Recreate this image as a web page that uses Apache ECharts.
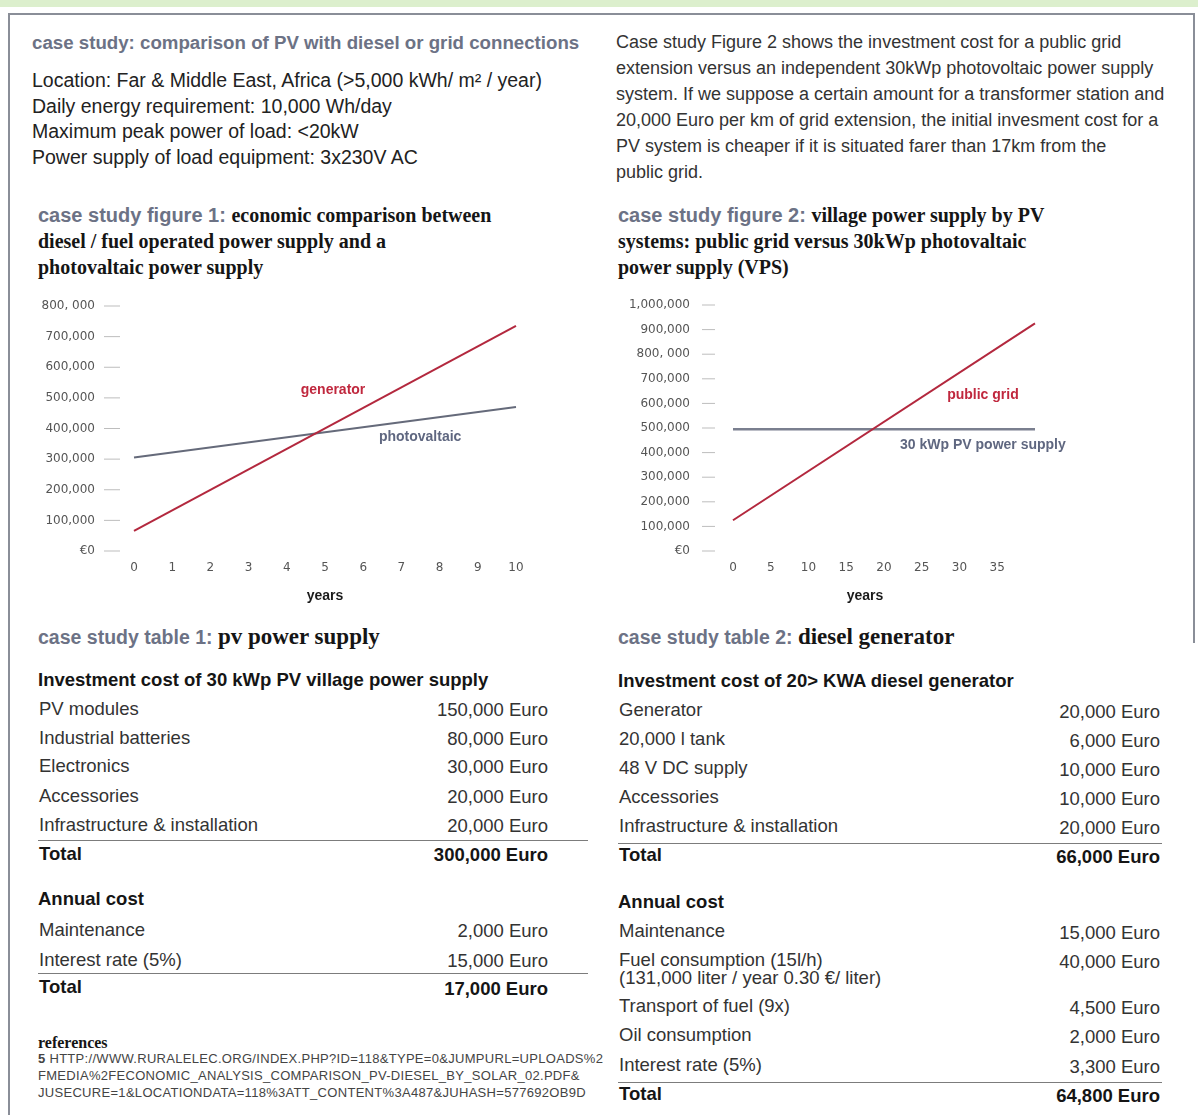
<!DOCTYPE html>
<html>
<head>
<meta charset="utf-8">
<title>case study: comparison of PV with diesel or grid connections</title>
<script src="https://cdn.jsdelivr.net/npm/echarts@6/dist/echarts.min.js"></script>
<style>
  html, body { margin: 0; padding: 0; background: #fff; }
  #page {
    position: relative; width: 1198px; height: 1115px; overflow: hidden;
    font-family: "Liberation Sans", Arial, sans-serif;
    color: #222;
  }
  .t { position: absolute; white-space: nowrap; line-height: 26px; }
  .band { position: absolute; left: 0; top: 0; width: 1198px; height: 7px; background: #dcefcd; }
  .line { position: absolute; background: #8a8e98; }
  .rule { position: absolute; height: 1px; background: #7c7c7c; }
  .hdr { font-size: 18.7px; font-weight: bold; color: #6c7285; }
  .intro { font-size: 19.5px; color: #222; }
  .para { font-size: 18px; color: #333; }
  .pre { font-family: "Liberation Sans", Arial, sans-serif; font-size: 20px; font-weight: bold; color: #6c7285; }
  .serif { font-family: "Liberation Serif", "DejaVu Serif", serif; font-size: 20px; font-weight: bold; color: #151515; }
  .big { font-size: 23px; }
  .big .pre { font-size: 19.5px; }
  .sub { font-size: 18.5px; font-weight: bold; color: #151515; }
  .row { font-size: 18.5px; color: #333; }
  .tot { font-size: 18.5px; font-weight: bold; color: #151515; }
  .ref { font-size: 13px; color: #444; line-height: 17px; letter-spacing: 0.3px; }
  #charts { position: absolute; left: 0; top: 290px; width: 1198px; height: 320px; }
</style>
</head>
<body>
<div id="page">
  <div id="charts"></div>
</div>
<script>
  // chart 1: costs over 10 years
  var years1 = [0, 10];
  var generatorCost = [66000, 735000];
  var pvCost1 = [305000, 470000];
  var yTicks1 = ['€0', '100,000', '200,000', '300,000', '400,000', '500,000', '600,000', '700,000', '800, 000'];

  // chart 2: public grid versus 30kWp PV
  var years2 = [0, 40];
  var publicGridCost = [125000, 925000];
  var pvCost2 = [495000, 495000];
  var yTicks2 = ['€0', '100,000', '200,000', '300,000', '400,000', '500,000', '600,000', '700,000', '800, 000', '900,000', '1,000,000'];

  // table 1: pv power supply
  var pvInvestItems = ['PV modules', 'Industrial batteries', 'Electronics', 'Accessories', 'Infrastructure & installation'];
  var pvInvestCost = [150000, 80000, 30000, 20000, 20000];
  var pvInvestTotal = 300000;
  var pvAnnualItems = ['Maintenance', 'Interest rate (5%)'];
  var pvAnnualCost = [2000, 15000];
  var pvAnnualTotal = 17000;

  // table 2: diesel generator
  var dieselInvestItems = ['Generator', '20,000 l tank', '48 V DC supply', 'Accessories', 'Infrastructure & installation'];
  var dieselInvestCost = [20000, 6000, 10000, 10000, 20000];
  var dieselInvestTotal = 66000;
  var dieselAnnualItems = ['Maintenance', 'Fuel consumption (15l/h)<br>(131,000 liter / year 0.30 €/ liter)', 'Transport of fuel (9x)', 'Oil consumption', 'Interest rate (5%)'];
  var dieselAnnualCost = [15000, 40000, 4500, 2000, 3300];
  var dieselAnnualTotal = 64800;

  var page = document.getElementById('page');

  function put(html, x, y, cls, right) {
    var d = document.createElement('div');
    d.className = 't ' + cls;
    d.innerHTML = html;
    d.style.top = (y - 13) + 'px';
    if (right) {
      d.style.right = (1198 - x) + 'px';
      d.style.textAlign = 'right';
    } else {
      d.style.left = x + 'px';
    }
    page.appendChild(d);
    return d;
  }
  function box(cls, x, y, w, h) {
    var d = document.createElement('div');
    d.className = cls;
    d.style.left = x + 'px';
    d.style.top = y + 'px';
    d.style.width = w + 'px';
    d.style.height = h + 'px';
    page.appendChild(d);
  }
  function euro(v) {
    return v.toLocaleString('en-US') + ' Euro';
  }

  // frame
  var band = document.createElement('div');
  band.className = 'band';
  page.appendChild(band);
  box('line', 8, 13, 1187, 2);
  box('line', 8, 13, 2, 1102);
  box('line', 1193, 13, 2, 630);

  // intro text
  put('case study: comparison of PV with diesel or grid connections', 32, 43, 'hdr');
  put('Location: Far &amp; Middle East, Africa (&gt;5,000 kWh/ m² / year)', 32, 80, 'intro');
  put('Daily energy requirement: 10,000 Wh/day', 32, 106, 'intro');
  put('Maximum peak power of load: &lt;20kW', 32, 131, 'intro');
  put('Power supply of load equipment: 3x230V AC', 32, 157, 'intro');

  var para = [
    'Case study Figure 2 shows the investment cost for a public grid',
    'extension versus an independent 30kWp photovoltaic power supply',
    'system. If we suppose a certain amount for a transformer station and',
    '20,000 Euro per km of grid extension, the initial invesment cost for a',
    'PV system is cheaper if it is situated farer than 17km from the',
    'public grid.'
  ];
  para.forEach(function (s, i) { put(s, 616, 42 + i * 26, 'para'); });

  // figure titles
  put('<span class="pre">case study figure 1: </span>economic comparison between', 38, 215, 'serif');
  put('diesel / fuel operated power supply and a', 38, 241, 'serif');
  put('photovaltaic power supply', 38, 267, 'serif');
  put('<span class="pre">case study figure 2: </span>village power supply by PV', 618, 215, 'serif');
  put('systems: public grid versus 30kWp photovaltaic', 618, 241, 'serif');
  put('power supply (VPS)', 618, 267, 'serif');

  // table 1
  put('<span class="pre">case study table 1: </span>pv power supply', 38, 637, 'serif big');
  put('Investment cost of 30 kWp PV village power supply', 38, 680, 'sub');
  var t1Rows = [709, 738, 766, 796, 825];
  pvInvestItems.forEach(function (s, i) {
    put(s, 39, t1Rows[i], 'row');
    put(euro(pvInvestCost[i]), 548, t1Rows[i] + 1, 'row', true);
  });
  box('rule', 38, 840, 550, 1);
  put('Total', 39, 854, 'tot');
  put(euro(pvInvestTotal), 548, 855, 'tot', true);
  put('Annual cost', 38, 899, 'sub');
  var t1Annual = [930, 960];
  pvAnnualItems.forEach(function (s, i) {
    put(s, 39, t1Annual[i], 'row');
    put(euro(pvAnnualCost[i]), 548, t1Annual[i] + 1, 'row', true);
  });
  box('rule', 38, 973, 550, 1);
  put('Total', 39, 987, 'tot');
  put(euro(pvAnnualTotal), 548, 989, 'tot', true);

  // references
  var r = put('references', 38, 1043, 'serif');
  r.style.fontSize = '16px';
  put('<b>5</b> HTTP://WWW.RURALELEC.ORG/INDEX.PHP?ID=118&amp;TYPE=0&amp;JUMPURL=UPLOADS%2<br>' +
    'FMEDIA%2FECONOMIC_ANALYSIS_COMPARISON_PV-DIESEL_BY_SOLAR_02.PDF&amp;<br>' +
    'JUSECURE=1&amp;LOCATIONDATA=118%3ATT_CONTENT%3A487&amp;JUHASH=577692OB9D', 38, 1063, 'ref');

  // table 2
  put('<span class="pre">case study table 2: </span>diesel generator', 618, 637, 'serif big');
  put('Investment cost of 20&gt; KWA diesel generator', 618, 681, 'sub');
  var t2Rows = [711, 740, 769, 798, 827];
  dieselInvestItems.forEach(function (s, i) {
    put(s, 619, t2Rows[i] - 1, 'row');
    put(euro(dieselInvestCost[i]), 1160, t2Rows[i] + 1, 'row', true);
  });
  box('rule', 618, 843, 544, 1);
  put('Total', 619, 855, 'tot');
  put(euro(dieselInvestTotal), 1160, 857, 'tot', true);
  put('Annual cost', 618, 902, 'sub');
  var t2Annual = [933, 962, 1008, 1037, 1067];
  dieselAnnualItems.forEach(function (s, i) {
    var d = put(s, 619, t2Annual[i] - 2, 'row');
    if (i === 1) {
      d.style.lineHeight = '18px';
      d.style.top = (960 - 9) + 'px';
    }
    put(euro(dieselAnnualCost[i]), 1160, t2Annual[i], 'row', true);
  });
  box('rule', 618, 1082, 544, 1);
  put('Total', 619, 1094, 'tot');
  put(euro(dieselAnnualTotal), 1160, 1096, 'tot', true);

  // charts
  var chart = echarts.init(document.getElementById('charts'));
  var red = '#b3283e';
  var slate = '#656a7a';
  var sansBold = '"Liberation Sans", Arial, sans-serif';
  var tickFont = { color: '#555', fontSize: 12, fontFamily: 'DejaVu Sans' };
  var nameFont = { color: '#1a1a1a', fontSize: 14, fontWeight: 'bold', fontFamily: sansBold };

  // the little dashes next to the y labels sit away from the plot, so draw them in the label
  function yAxisFor(gridIndex, max, labels, margin, gap, dash) {
    return {
      type: 'value', gridIndex: gridIndex, min: 0, max: max, interval: 100000,
      axisLine: { show: false },
      axisTick: { show: false },
      splitLine: { show: false },
      axisLabel: Object.assign({
        margin: margin,
        formatter: function (v) { return labels[Math.round(v / 100000)] + '{s|}{d|}'; },
        rich: {
          s: { width: gap, height: 1 },
          d: { width: dash, height: 1, backgroundColor: '#bdbdbd', verticalAlign: 'middle' }
        }
      }, tickFont)
    };
  }

  function pairs(xs, ys) {
    return xs.map(function (x, i) { return [x, ys[i]]; });
  }

  function tag(text, coord, color) {
    return {
      symbol: 'rect', symbolSize: 0, silent: true,
      data: [{ coord: coord }],
      label: {
        show: true, position: 'inside', formatter: text,
        color: color, fontSize: 14, fontWeight: 'bold', fontFamily: sansBold
      }
    };
  }

  chart.setOption({
    animation: false,
    grid: [
      { left: 134, top: 16, width: 382, height: 245, outerBoundsMode: 'none' },
      { left: 733, top: 15, width: 302, height: 246, outerBoundsMode: 'none' }
    ],
    xAxis: [
      {
        type: 'value', gridIndex: 0, min: 0, max: 10, interval: 1,
        name: 'years', nameLocation: 'middle', nameGap: 38, nameTextStyle: nameFont,
        axisLine: { show: false }, axisTick: { show: false }, splitLine: { show: false },
        axisLabel: Object.assign({ margin: 11 }, tickFont)
      },
      {
        type: 'value', gridIndex: 1, min: 0, max: 40, interval: 5,
        name: 'years', nameLocation: 'middle', nameGap: 38,
        nameTextStyle: Object.assign({ padding: [0, 38, 0, 0] }, nameFont),
        axisLine: { show: false }, axisTick: { show: false }, splitLine: { show: false },
        axisLabel: Object.assign({ margin: 11, showMaxLabel: false }, tickFont)
      }
    ],
    yAxis: [
      yAxisFor(0, 800000, yTicks1, 14, 9, 16),
      yAxisFor(1, 1000000, yTicks2, 18, 12, 13)
    ],
    series: [
      {
        name: 'photovaltaic', type: 'line', xAxisIndex: 0, yAxisIndex: 0,
        data: pairs(years1, pvCost1), showSymbol: false,
        lineStyle: { color: slate, width: 2 },
        markPoint: tag('photovaltaic', [7.49, 372000], '#5f6780')
      },
      {
        name: 'generator', type: 'line', xAxisIndex: 0, yAxisIndex: 0,
        data: pairs(years1, generatorCost), showSymbol: false,
        lineStyle: { color: red, width: 2 },
        markPoint: tag('generator', [5.21, 525000], '#c0283e')
      },
      {
        name: '30 kWp PV power supply', type: 'line', xAxisIndex: 1, yAxisIndex: 1,
        data: pairs(years2, pvCost2), showSymbol: false,
        lineStyle: { color: '#7a7f8f', width: 2.5 },
        markPoint: tag('30 kWp PV power supply', [33.1, 430000], '#5f6780')
      },
      {
        name: 'public grid', type: 'line', xAxisIndex: 1, yAxisIndex: 1,
        data: pairs(years2, publicGridCost), showSymbol: false,
        lineStyle: { color: red, width: 2 },
        markPoint: tag('public grid', [33.1, 634000], '#c0283e')
      }
    ]
  });
</script>
</body>
</html>
